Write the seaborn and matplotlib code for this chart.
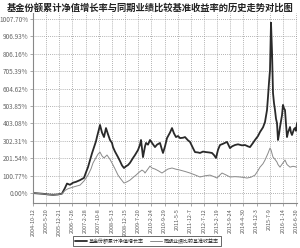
import matplotlib
matplotlib.use("Agg")
import matplotlib.pyplot as plt
import seaborn as sns
import pandas as pd
import numpy as np

sns.set_theme(style="white")
plt.rcParams['font.family'] = ['Noto Sans CJK SC', 'DejaVu Sans']

title = "基金份额累计净值增长率与同期业绩比较基准收益率的历史走势对比图"
fund_name = "基金份额累计净值增长率"
bench_name = "同期业绩比较基准收益率"

# time index (trading-period position) and values (%)
fund_t = [0, 5, 10, 15, 20, 25, 29, 32, 34, 37, 40, 43, 47, 51, 53, 55, 57, 59, 61, 63, 64, 66, 67, 69, 71, 73, 75, 77, 79, 80, 82, 85, 87, 89, 91, 93, 95, 97, 100, 102, 105, 107, 108, 110, 112, 113, 115, 117, 119, 122, 124, 127, 129, 130, 132, 134, 137, 139, 141, 143, 145, 147, 150, 152, 155, 157, 160, 162, 165, 167, 170, 173, 176, 179, 181, 183, 185, 187, 190, 194, 197, 199, 202, 205, 209, 212, 215, 217, 220, 222, 225, 227, 230, 232, 234, 235, 236, 237, 238, 239, 240, 241, 242, 243, 244, 245, 246, 247, 249, 250, 251, 252, 253, 254, 255, 257, 258, 259, 261, 262, 263, 264]
fund_v = [0, -2, -4, -8, -10, -8, -3, 30, 55, 48, 60, 65, 75, 88, 120, 150, 190, 230, 265, 300, 325, 370, 394, 350, 324, 376, 340, 307, 290, 266, 240, 208, 185, 160, 145, 155, 162, 175, 203, 220, 249, 280, 307, 208, 270, 290, 280, 307, 290, 266, 280, 290, 250, 232, 270, 318, 350, 376, 345, 324, 330, 318, 320, 324, 305, 296, 260, 237, 235, 232, 240, 237, 235, 232, 220, 203, 250, 278, 285, 296, 260, 270, 278, 282, 276, 278, 270, 266, 290, 307, 330, 353, 380, 411, 480, 556, 640, 712, 985, 820, 579, 520, 480, 430, 405, 307, 340, 382, 450, 510, 490, 480, 400, 324, 350, 382, 350, 336, 370, 376, 360, 405]

bench_t = [0, 5, 10, 15, 20, 25, 29, 32, 35, 37, 42, 47, 51, 55, 58, 60, 63, 65, 67, 69, 71, 74, 77, 79, 82, 85, 88, 91, 94, 97, 100, 103, 106, 109, 111, 112, 115, 117, 119, 122, 125, 129, 132, 135, 139, 143, 147, 152, 157, 162, 167, 172, 177, 181, 184, 187, 189, 193, 197, 202, 207, 211, 214, 218, 222, 225, 227, 230, 232, 235, 237, 238, 240, 242, 244, 245, 247, 250, 252, 254, 257, 260, 264]
bench_v = [0, -2, -4, -8, -10, -8, -4, 15, 25, 29, 38, 46, 70, 104, 140, 174, 205, 225, 237, 215, 203, 220, 195, 174, 140, 104, 80, 58, 65, 75, 90, 104, 120, 133, 125, 116, 140, 156, 145, 139, 130, 116, 128, 139, 145, 138, 133, 125, 116, 105, 93, 100, 104, 95, 87, 105, 116, 105, 93, 95, 93, 90, 87, 92, 104, 130, 150, 170, 191, 230, 260, 250, 208, 195, 179, 165, 150, 175, 191, 165, 150, 155, 150]

x_labels = ["2004-10-12", "2005-5-20", "2005-12-21", "2006-7-26", "2007-2-28",
            "2007-10-8", "2008-5-13", "2008-12-15", "2009-7-20", "2010-2-24",
            "2010-9-29", "2011-5-5", "2011-12-7", "2012-7-12", "2013-2-19",
            "2013-9-24", "2014-4-30", "2014-12-3", "2015-7-9", "2016-1-14",
            "2016-6-30"]
y_ticks = [0.00, 100.77, 201.54, 302.31, 403.08, 503.85, 604.62, 705.39, 806.16, 906.93, 1007.70]

fund_df = pd.DataFrame({"t": fund_t, "v": fund_v})
bench_df = pd.DataFrame({"t": bench_t, "v": bench_v})

fig = plt.figure(figsize=(3.0, 2.48), dpi=100)
ax = fig.add_axes([0.11, 0.181, 0.88, 0.767])

sns.lineplot(data=fund_df, x="t", y="v", ax=ax, color="#2a2a2a", lw=1.3, label=fund_name)
sns.lineplot(data=bench_df, x="t", y="v", ax=ax, color="#8a8a8a", lw=0.7, label=bench_name)

ax.set_xlim(0, 264)
ax.set_ylim(-58, 1042)
xt = np.linspace(0, 263, len(x_labels))
ax.set_xticks(xt)
ax.set_xticklabels(x_labels, rotation=90, fontsize=3.9, color="#555555")
ax.set_yticks(y_ticks)
ax.set_yticklabels([f"{v:.2f}%" for v in y_ticks], fontsize=4.6, color="#666666")
ax.set_xlabel("")
ax.set_ylabel("")
ax.grid(True, linestyle=(0, (1, 1.5)), color="#999999", lw=0.6)
ax.tick_params(axis="both", length=2, width=0.5, pad=1.5, color="#888888", left=True, bottom=True)
for s in ["top", "right"]:
    ax.spines[s].set_visible(False)
for s in ["left", "bottom"]:
    ax.spines[s].set_color("#888888")
    ax.spines[s].set_linewidth(0.8)

fig.text(0.5, 0.968, title, ha="center", va="center", fontsize=6.7, fontweight="bold", color="#222222")

leg = ax.legend(loc="center", bbox_to_anchor=(0.49, 0.028), bbox_transform=fig.transFigure,
                ncol=2, fontsize=3.6, frameon=True, fancybox=False, edgecolor="#222222",
                handlelength=2.4, columnspacing=1.2, borderpad=0.4, handletextpad=0.4)
leg.get_frame().set_linewidth(0.6)

fig.savefig("out.png", dpi=100)
